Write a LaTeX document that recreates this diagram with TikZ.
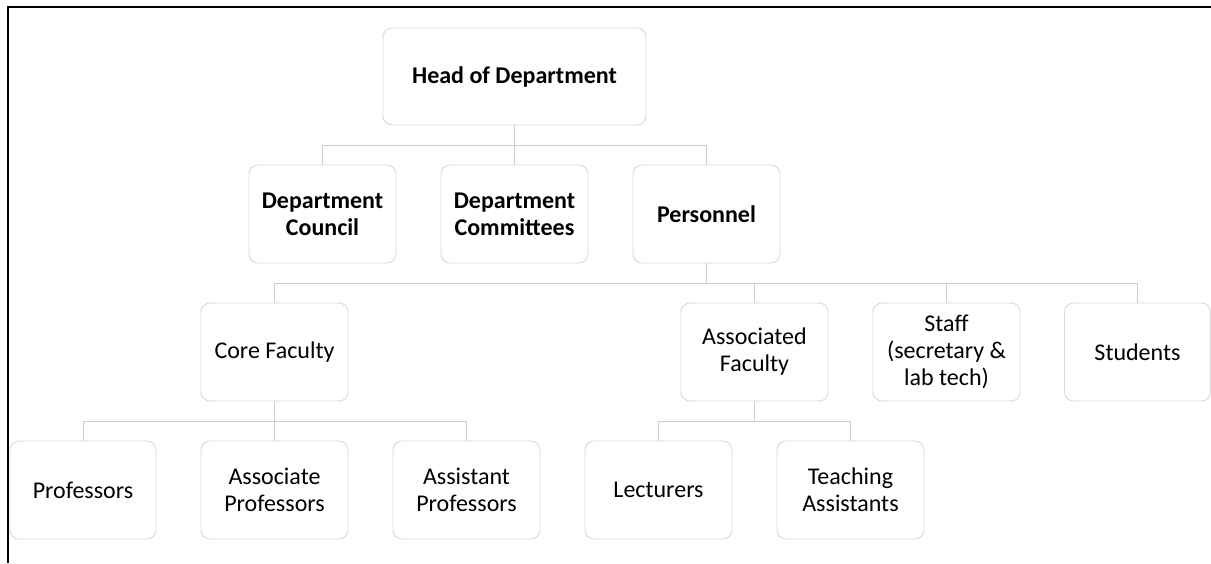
\documentclass[tikz,border=0pt]{standalone}
\usepackage{fontspec}
\setmainfont{Carlito}
\begin{document}
\begin{tikzpicture}[x=1pt,y=-1pt,
  box/.style={draw=boxgray, line width=0.9pt, rounded corners=9pt, minimum width=147pt, minimum height=98pt, align=center, inner sep=2pt, font=\fontsize{24}{27}\selectfont},
  boldbox/.style={box, font=\fontsize{24}{27}\selectfont\bfseries},
  conn/.style={draw=linegray, line width=0.9pt}]
\definecolor{boxgray}{RGB}{217,217,217}
\definecolor{linegray}{RGB}{205,205,205}
\useasboundingbox (0,0) rectangle (1211,563);
\draw[line width=2pt] (8,563) -- (8,7) -- (1211,7);
% level 0
\node[boldbox, minimum width=263pt, minimum height=97pt] (head) at (514.5,76.5) {Head of Department};
% level 1
\node[boldbox] (council) at (322.5,214) {Department\\Council};
\node[boldbox] (committees) at (514.5,214) {Department\\Committees};
\node[boldbox] (personnel) at (706.5,214) {Personnel};
% level 2
\node[box] (core) at (274.5,352) {Core Faculty};
\node[box] (assocfac) at (754.5,352) {Associated\\Faculty};
\node[box] (staff) at (946.5,352) {Staff\\(secretary \&\\lab tech)};
\node[box, minimum width=146pt] (students) at (1137.5,352) {Students};
% level 3
\node[box, minimum width=146pt] (prof) at (83,490) {Professors};
\node[box] (assocprof) at (274.5,490) {Associate\\Professors};
\node[box] (asstprof) at (466.5,490) {Assistant\\Professors};
\node[box] (lect) at (658.5,490) {Lecturers};
\node[box] (ta) at (850.5,490) {Teaching\\Assistants};
% connectors
\foreach \c in {council,committees,personnel}
  \draw[conn] (head.south) -- ++(0,20) -| (\c.north);
\foreach \c in {core,assocfac,staff,students}
  \draw[conn] (personnel.south) -- ++(0,20) -| (\c.north);
\foreach \c in {prof,assocprof,asstprof}
  \draw[conn] (core.south) -- ++(0,20) -| (\c.north);
\foreach \c in {lect,ta}
  \draw[conn] (assocfac.south) -- ++(0,20) -| (\c.north);
\end{tikzpicture}
\end{document}
